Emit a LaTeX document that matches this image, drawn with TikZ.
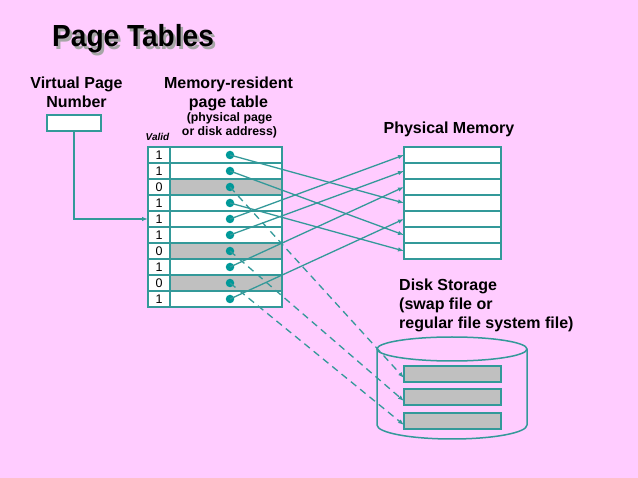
\documentclass[tikz,border=0pt]{standalone}
\usepackage{fontspec}
\setmainfont{Liberation Sans}
\usetikzlibrary{positioning,arrows.meta}
\definecolor{slidepink}{RGB}{255,204,255}
\definecolor{tealline}{RGB}{51,153,153}
\definecolor{tealdot}{RGB}{0,153,153}
\definecolor{swapgray}{RGB}{192,192,192}

\begin{document}
\begin{tikzpicture}[x=1pt, y=1pt,
	cell/.style={draw=tealline, line width=1.5pt, inner sep=0pt, outer sep=0pt, minimum height=16pt},
	validcell/.style={cell, fill=white, minimum width=22pt, font=\fontsize{12.5}{12.5}\selectfont},
	entry/.style={cell, minimum width=112pt},
	entry0/.style={fill=swapgray},
	entry1/.style={fill=white},
	frame/.style={cell, fill=white, minimum width=97pt},
	swapblock/.style={cell, fill=swapgray, minimum width=97pt},
	pdot/.style={circle, fill=tealdot, inner sep=0pt, minimum size=8.5pt},
	map/.style={draw=tealline, line width=1.3pt, -{Latex[length=6pt,width=4.5pt]}},
	swap/.style={map, dash pattern=on 7pt off 5pt},
	heading/.style={font=\bfseries\fontsize{16}{19}\selectfont, align=center, inner sep=0pt},
	smallheading/.style={font=\bfseries\fontsize{12.3}{14}\selectfont, align=center, inner sep=0pt},
	titletext/.style={font=\bfseries\fontsize{30.5}{32}\selectfont, inner sep=0pt, anchor=base west},
]
	\fill[slidepink] (0,0) rectangle (638,-478);
	\useasboundingbox (0,0) rectangle (638,-478);

	\node[titletext, text=black!35] at (54.5,-49.5) {\scalebox{0.92}[1]{Page Tables}};
	\node[titletext] (title) at (52,-47) {\scalebox{0.92}[1]{Page Tables}};

	\node[heading, anchor=north] (vpnlabel) at (76.5,-77) {Virtual Page\\Number};
	\node[heading, anchor=north] (ptlabel) at (228.5,-77) {Memory-resident\\page table};
	\node[smallheading, anchor=north] (ptnote) at (229.5,-112.5) {(physical page\\or disk address)};
	\node[font=\bfseries\itshape\fontsize{10}{10}\selectfont, inner sep=0pt, anchor=base] (validlabel) at (157.5,-140.5) {Valid};
	\node[heading, anchor=base] (pmlabel) at (449,-134) {Physical Memory};
	\node[heading, align=left, anchor=north west] (disklabel) at (399,-278.5) {Disk Storage\\(swap file or\\regular file system file)};

	\node[cell, fill=white, minimum width=54pt] (vpn) at (74,-123) {};

	% page table
	\foreach \v [count=\i] in {1,1,0,1,1,1,0,1,0,1} {
		\node[validcell] (v\i) at (159,{-155-16*(\i-1)}) {\v};
		\node[entry, entry\v, anchor=west] (e\i) at (v\i.east) {};
		\node[pdot] (d\i) at ([xshift=4pt]e\i.center) {};
	}

	% physical memory
	\foreach \k in {1,...,7}
		\node[frame] (pm\k) at (452.5,{-155-16*(\k-1)}) {};

	% disk
	\draw[tealline, line width=1.5pt] (452,-349) ellipse [x radius=75, y radius=12];
	\draw[tealline, line width=1.5pt] (377,-349) -- (377,-425)
		arc[start angle=180, end angle=360, x radius=75, y radius=14] -- (527,-349);
	\foreach \y [count=\k] in {374,397,421}
		\node[swapblock] (db\k) at (452.5,-\y) {};

	\draw[map] (vpn.south) |- (v5.west);

	\foreach \a/\b in {1/4,2/6,4/7,5/1,6/2,8/3,10/5}
		\draw[map] (d\a.center) -- (pm\b.west);
	\foreach \a/\b in {3/1,7/2,9/3}
		\draw[swap] (d\a.center) -- ([yshift=-4pt]db\b.west);
\end{tikzpicture}
\end{document}
